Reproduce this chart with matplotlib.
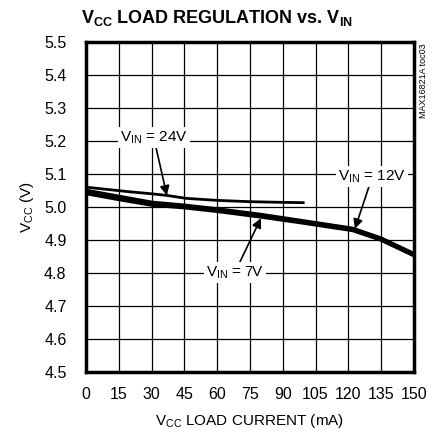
import matplotlib
matplotlib.use('Agg')
import matplotlib.pyplot as plt
import numpy as np

plt.rcParams['font.family'] = ['Liberation Sans', 'DejaVu Sans']

# Данные
load_24v = [0, 10, 20, 30, 37, 46, 60, 75, 90, 100]
vcc_24v = [5.060, 5.053, 5.046, 5.040, 5.035, 5.026, 5.020, 5.016, 5.014, 5.013]

load_12v = [0, 15, 30, 45, 60, 80, 100, 122, 135, 150]
vcc_12v = [5.048, 5.030, 5.012, 5.003, 4.992, 4.975, 4.955, 4.933, 4.903, 4.856]

load_7v = [0, 15, 30, 45, 60, 80, 100, 122, 135, 150]
vcc_7v = [5.043, 5.025, 5.008, 5.000, 4.989, 4.972, 4.953, 4.931, 4.902, 4.855]

xticks = [0, 15, 30, 45, 60, 75, 90, 105, 120, 135, 150]
yticks = [4.5, 4.6, 4.7, 4.8, 4.9, 5.0, 5.1, 5.2, 5.3, 5.4, 5.5]

fig = plt.figure(figsize=(4.33, 4.33), dpi=100)
ax = fig.add_axes([0.1986, 0.141, 0.7574, 0.762])

ax.plot(load_24v, vcc_24v, color='black', linewidth=2.0, solid_capstyle='butt', zorder=3)
ax.plot(load_12v, vcc_12v, color='black', linewidth=3.5, solid_capstyle='butt', zorder=3)
ax.plot(load_7v, vcc_7v, color='black', linewidth=3.5, solid_capstyle='butt', zorder=3)

ax.set_xlim(0, 150)
ax.set_ylim(4.5, 5.5)
ax.set_xticks(xticks)
ax.set_yticks(yticks)
ax.set_xticklabels([str(t) for t in xticks])
ax.set_yticklabels([f'{t:.1f}' for t in yticks])
ax.tick_params(length=0, labelsize=11.5)
ax.tick_params(axis='x', pad=11)
ax.tick_params(axis='y', pad=14)
ax.grid(True, color='black', linewidth=0.9)
ax.set_axisbelow(True)
for s in ax.spines.values():
    s.set_linewidth(2.5)

ax.set_xlabel('V$_{\\mathregular{CC}}$ LOAD CURRENT (mA)', fontsize=11, labelpad=7)
ax.set_ylabel('V$_{\\mathregular{CC}}$ (V)', fontsize=11, labelpad=6)
fig.text(0.5, 0.958, 'V$_{\\mathregular{CC}}$ LOAD REGULATION vs. V$_{\\mathregular{IN}}$',
         ha='center', va='center', fontsize=13, fontweight='bold')

fig.text(0.979, 0.90, 'MAX16821A toc03', rotation=90, ha='center', va='top', fontsize=6.5)

box = dict(facecolor='white', edgecolor='none', pad=1.5)
arrow = dict(arrowstyle='-|>', color='black', lw=1.2, mutation_scale=14, shrinkA=0, shrinkB=0)

ax.annotate('V$_{\\mathregular{IN}}$ = 24V', xy=(37, 5.035), xytext=(31, 5.21),
            ha='center', va='center', fontsize=11, bbox=box, arrowprops=arrow, zorder=4)
ax.annotate('V$_{\\mathregular{IN}}$ = 12V', xy=(123, 4.934), xytext=(131, 5.093),
            ha='center', va='center', fontsize=11, bbox=box, arrowprops=arrow, zorder=4)
ax.annotate('V$_{\\mathregular{IN}}$ = 7V', xy=(80, 4.966), xytext=(68, 4.80),
            ha='center', va='center', fontsize=11, bbox=box, arrowprops=arrow, zorder=4)

fig.savefig('out.png', dpi=100)
